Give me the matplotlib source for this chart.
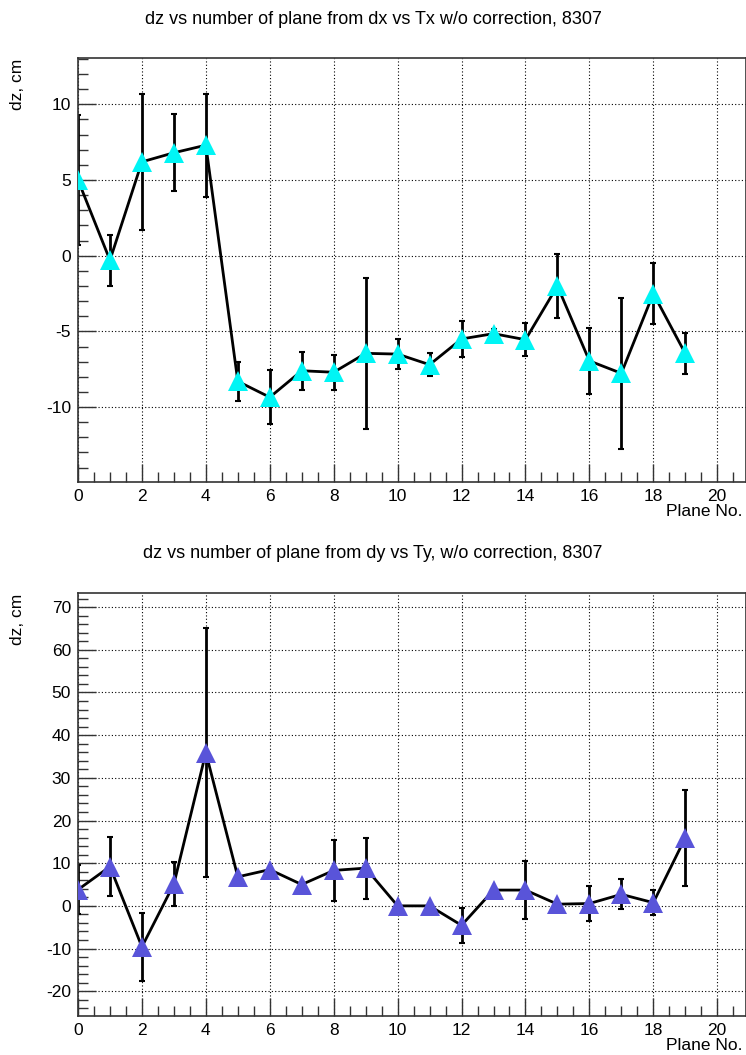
import numpy as np
import matplotlib
matplotlib.use('Agg')
import matplotlib.pyplot as plt
from matplotlib.ticker import MultipleLocator

plt.rcParams['font.family'] = ['Liberation Sans', 'DejaVu Sans']
plt.rcParams['axes.unicode_minus'] = False

planes = np.arange(20)

# dz from dx vs Tx
dz_x = [5.0, -0.3, 6.2, 6.8, 7.3, -8.3, -9.35, -7.6, -7.7, -6.45,
        -6.5, -7.2, -5.5, -5.15, -5.55, -2.0, -6.95, -7.77, -2.5, -6.46]
dz_x_err = [4.3, 1.7, 4.5, 2.55, 3.4, 1.3, 1.8, 1.25, 1.15, 4.97,
            1.0, 0.74, 1.2, 0.3, 1.1, 2.1, 2.17, 4.98, 2.0, 1.36]

# dz from dy vs Ty
dz_y = [3.8, 9.2, -9.6, 5.1, 35.9, 6.8, 8.5, 5.0, 8.3, 8.85,
        0.0, 0.0, -4.55, 3.7, 3.7, 0.4, 0.55, 2.7, 0.75, 15.95]
dz_y_err = [5.8, 7.0, 8.0, 5.2, 29.2, 0.5, 0.5, 0.5, 7.1, 7.15,
            0.4, 0.4, 4.15, 0.5, 6.8, 0.4, 4.05, 3.5, 2.95, 11.3]

titles = ['dz vs number of plane from dx vs Tx w/o correction, 8307',
          'dz vs number of plane from dy vs Ty, w/o correction, 8307']

fig = plt.figure(figsize=(7.46, 10.55), dpi=100)
W, H = 746.0, 1055.0


def panel(top, bot, y, yerr, color, ylim, ymaj, ymin_, title, title_y):
    ax = fig.add_axes([78 / W, 1 - bot / H, 668 / W, (bot - top) / H])
    ax.errorbar(planes, y, yerr=yerr, fmt='none', ecolor='black',
                elinewidth=2, capsize=2, capthick=1.5, zorder=2)
    ax.plot(planes, y, color='black', lw=2, zorder=3)
    ax.plot(planes, y, ls='none', marker='^', ms=14, color=color,
            markeredgewidth=0, zorder=4)
    ax.set_xlim(0, 20.9)
    ax.set_ylim(*ylim)
    ax.xaxis.set_major_locator(MultipleLocator(2))
    ax.xaxis.set_minor_locator(MultipleLocator(0.5))
    ax.yaxis.set_major_locator(MultipleLocator(ymaj))
    ax.yaxis.set_minor_locator(MultipleLocator(ymin_))
    ax.tick_params(which='both', direction='in', top=False, right=False,
                   labelsize=12.5, color='#333333', width=1)
    ax.tick_params(which='major', length=13, pad=5)
    ax.tick_params(which='minor', length=7)
    ax.grid(True, which='major', color='black', ls=(0, (1, 2)), lw=0.8)
    for s in ax.spines.values():
        s.set_color('#333333')
        s.set_linewidth(1.2)
    fig.text(0.5, 1 - title_y / H, title, ha='center', va='center', fontsize=13)
    fig.text(18 / W, 1 - (top + 1) / H, 'dz, cm', rotation=90,
             ha='center', va='top', fontsize=12.5)
    fig.text(743 / W, 1 - (bot + 30) / H, 'Plane No.', ha='right',
             va='center', fontsize=12.5)
    return ax


panel(58, 482, dz_x, dz_x_err, '#00f5f5', (-14.95, 13.06), 5, 1,
      titles[0], 19)
panel(593, 1016, dz_y, dz_y_err, '#5954d9', (-25.8, 73.3), 10, 2,
      titles[1], 553)

fig.savefig('out.png', dpi=100)
